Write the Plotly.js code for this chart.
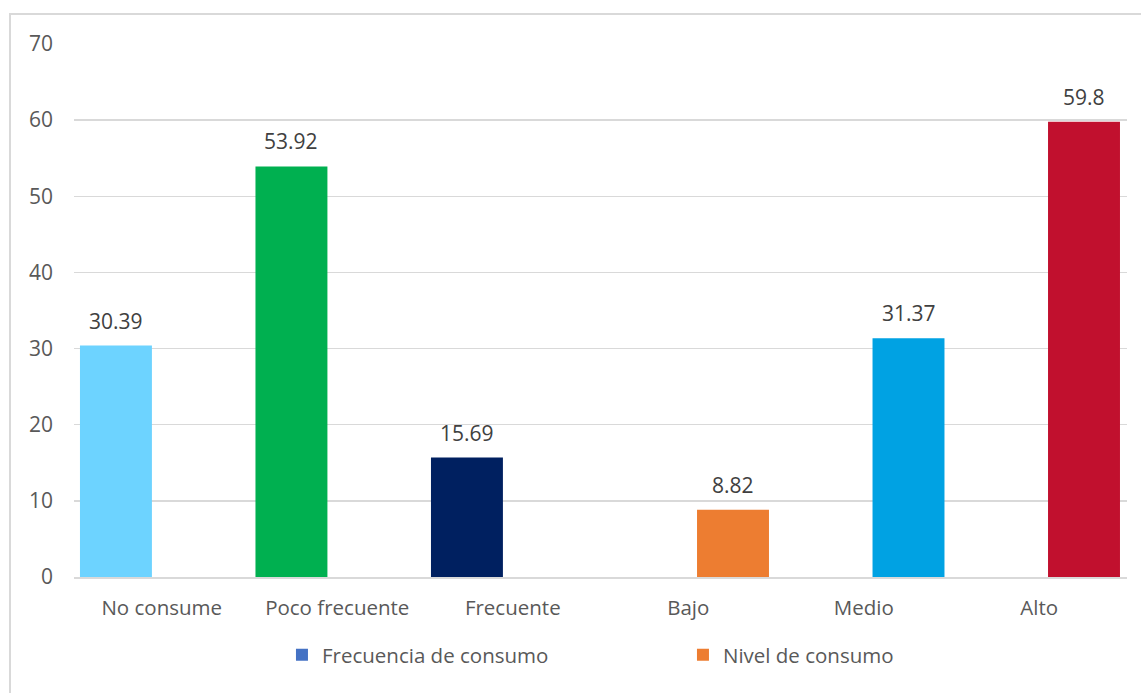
<!DOCTYPE html>
<html>
<head>
<meta charset="utf-8">
<script src="https://cdn.plot.ly/plotly-3.0.1.min.js"></script>
<style>
  html, body { margin: 0; padding: 0; background: #ffffff; overflow: hidden; }
  #frame { position: absolute; left: 9px; top: 13px; width: 2000px; height: 2000px; border: 2px solid #d9d9d9; box-sizing: border-box; pointer-events: none; }
  #chart { position: absolute; left: 0; top: 0; width: 1141px; height: 693px; }
</style>
</head>
<body>
<div id="chart"></div>
<div id="frame"></div>
<script>
// ---- data ----
const categories = ['No consume', 'Poco frecuente', 'Frecuente', 'Bajo', 'Medio', 'Alto'];
const frecuencia = [30.39, 53.92, 15.69, null, null, null];
const nivel = [null, null, null, 8.82, 31.37, 59.8];
const barColors = ['#6DD3FF', '#00B050', '#002060', '#ED7D31', '#00A2E3', '#C1102E'];
const seriesNames = ['Frecuencia de consumo', 'Nivel de consumo'];
const legendColors = ['#4472C4', '#ED7D31'];
const yTicks = [0, 10, 20, 30, 40, 50, 60, 70];

// ---- styles ----
const barWidth = 0.41;
const offsets = [-0.466, 0.05];
const labelColor = '#404040';
const axisText = '#595959';
const FONT = 'Open Sans, DejaVu Sans, sans-serif';

const seriesValues = [frecuencia, nivel];
const traces = [];
const annotations = [];

seriesValues.forEach((vals, s) => {
  traces.push({
    type: 'bar',
    x: categories,
    y: vals,
    width: barWidth,
    offset: offsets[s],
    marker: { color: barColors },
    showlegend: false,
    hoverinfo: 'x+y'
  });
  vals.forEach((v, i) => {
    if (v === null) return;
    annotations.push({
      x: i + offsets[s] + barWidth / 2,
      y: v,
      xref: 'x', yref: 'y',
      text: String(v),
      showarrow: false,
      yanchor: 'bottom',
      yshift: 9,
      font: { family: FONT, size: 21, color: labelColor }
    });
  });
});

// legend-only entries (series colours)
seriesNames.forEach((name, s) => {
  traces.push({
    type: 'bar',
    name: name,
    x: [categories[0]],
    y: [0],
    width: barWidth,
    offset: offsets[s],
    marker: { color: legendColors[s] },
    hoverinfo: 'skip'
  });
});

const layout = {
  width: 1141,
  height: 693,
  margin: { l: 74, r: 14, t: 44, b: 116 },
  paper_bgcolor: '#ffffff',
  plot_bgcolor: '#ffffff',
  font: { family: FONT, size: 20.5, color: axisText },
  barmode: 'group',
  xaxis: {
    type: 'category',
    categoryarray: categories,
    showgrid: false,
    showline: true,
    linecolor: '#d9d9d9',
    linewidth: 1.5,
    ticks: '',
    ticklabelstandoff: 12,
    tickfont: { family: FONT, size: 20.5, color: axisText },
    zeroline: false
  },
  yaxis: {
    range: [0, 70],
    tickvals: yTicks,
    ticktext: yTicks.map(String),
    showgrid: true,
    gridcolor: '#d9d9d9',
    gridwidth: 1.5,
    zeroline: false,
    showline: false,
    ticks: '',
    ticklabelstandoff: 20,
    tickfont: { family: FONT, size: 21, color: axisText }
  },
  showlegend: true,
  legend: {
    orientation: 'h',
    x: 0.1975,
    xanchor: 'left',
    y: -0.146,
    yanchor: 'middle',
    entrywidth: 356,
    font: { family: FONT, size: 20.5, color: axisText },
    bgcolor: 'rgba(0,0,0,0)'
  },
  annotations: annotations
};

Plotly.newPlot('chart', traces, layout, { displayModeBar: false, staticPlot: true });
</script>
</body>
</html>
